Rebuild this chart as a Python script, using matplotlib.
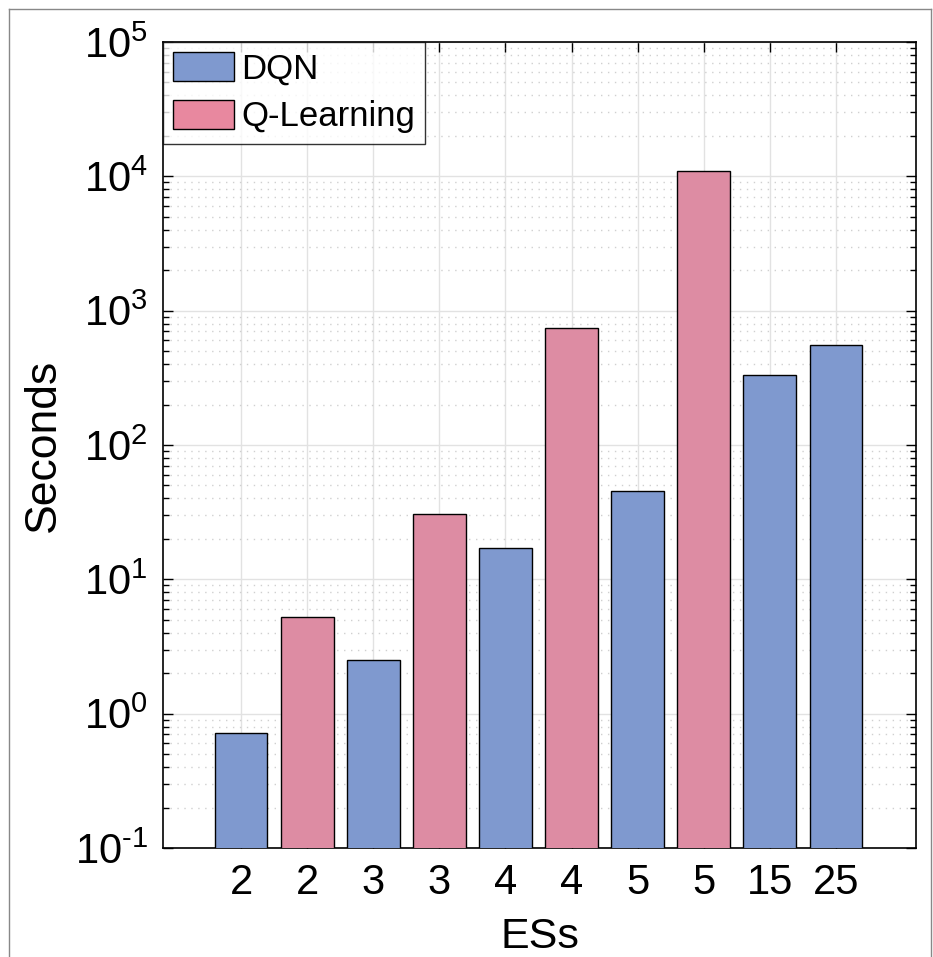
import numpy as np
import matplotlib.pyplot as plt
from matplotlib.patches import Patch
from matplotlib.lines import Line2D
from matplotlib.ticker import LogLocator, NullFormatter, FuncFormatter

plt.rcParams['font.family'] = ['Liberation Sans', 'DejaVu Sans']
plt.rcParams['mathtext.fontset'] = 'custom'
plt.rcParams['mathtext.rm'] = 'Liberation Sans'
plt.rcParams['mathtext.it'] = 'Liberation Sans'
plt.rcParams['axes.unicode_minus'] = False

# data
es_labels = ['2', '2', '3', '3', '4', '4', '5', '5', '15', '25']
methods = ['DQN', 'Q-Learning', 'DQN', 'Q-Learning', 'DQN', 'Q-Learning',
           'DQN', 'Q-Learning', 'DQN', 'DQN']
seconds = [0.72, 5.2, 2.5, 30.7, 17.1, 745, 45.5, 11000, 333, 556]

colors = {'DQN': '#7f99cf', 'Q-Learning': '#dd8ca3'}
legend_colors = {'DQN': '#7f99cf', 'Q-Learning': '#e8889f'}


def pow10(v, pos):
    e = int(round(np.log10(v)))
    if e < 0:
        return r'$10^{\text{-}%d}$' % (-e)
    return r'$10^{%d}$' % e


fig = plt.figure(figsize=(9.33, 9.57), dpi=100)
ax = fig.add_axes([0.1747, 0.1139, 0.8071, 0.8422])

x = np.arange(1, len(seconds) + 1)
ax.set_yscale('log')
ax.bar(x, seconds, width=0.8, color=[colors[m] for m in methods],
       edgecolor='black', linewidth=1.0, zorder=3)

ax.set_ylim(0.1, 1e5)
ax.set_xlim(-0.18, 11.21)
ax.set_xticks(x)
ax.set_xticklabels(es_labels)
ax.yaxis.set_major_locator(LogLocator(base=10, numticks=10))
ax.yaxis.set_major_formatter(FuncFormatter(pow10))
ax.yaxis.set_minor_locator(LogLocator(base=10, subs=np.arange(2, 10), numticks=20))
ax.yaxis.set_minor_formatter(NullFormatter())

ax.grid(True, which='major', color='#e2e2e2', linewidth=1.0, zorder=0)
ax.grid(True, which='minor', axis='y', color='#d0d0d0', linestyle=(0, (1, 4)),
        linewidth=1.0, zorder=0)

ax.tick_params(which='both', direction='in', top=True, right=True,
               labelsize=30, width=1.0, pad=11)
ax.tick_params(which='major', length=7)
ax.tick_params(which='minor', length=4)
for s in ax.spines.values():
    s.set_linewidth(1.2)

ax.set_xlabel('ESs', fontsize=31, labelpad=10)
ax.set_ylabel('Seconds', fontsize=32, labelpad=8)

handles = [Patch(facecolor=legend_colors[k], edgecolor='black', linewidth=1.0)
           for k in ['DQN', 'Q-Learning']]
leg = ax.legend(handles, ['DQN', 'Q-Learning'], loc='upper left', fontsize=25,
                frameon=True, fancybox=False, edgecolor='black',
                borderaxespad=0, handlelength=1.75, handleheight=0.9,
                handletextpad=0.2, borderpad=0.3, labelspacing=0.4)
leg.get_frame().set_linewidth(1.0)
leg.set_zorder(5)

# screenshot frame around the figure
fig.add_artist(Line2D([9 / 933, 9 / 933], [0, 1 - 9 / 957], color='#888888', lw=1))
fig.add_artist(Line2D([9 / 933, 931 / 933], [1 - 9 / 957, 1 - 9 / 957], color='#888888', lw=1))
fig.add_artist(Line2D([931 / 933, 931 / 933], [0, 1 - 9 / 957], color='#888888', lw=1))

fig.savefig('out.png', dpi=100)
